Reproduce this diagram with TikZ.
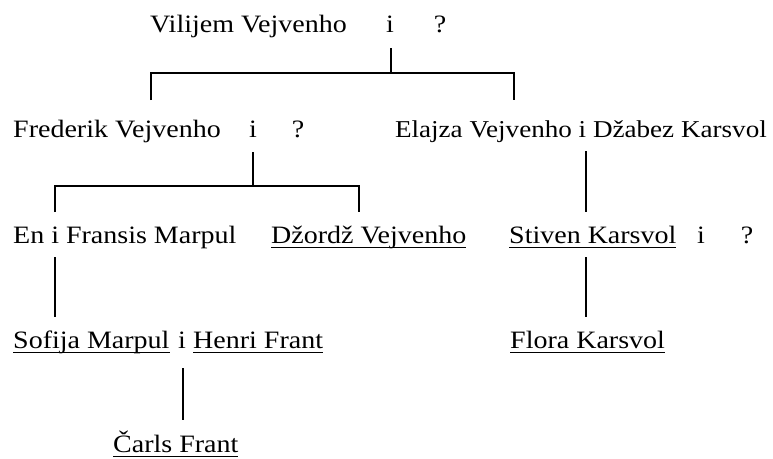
\documentclass[tikz,border=0pt]{standalone}
\usepackage{fontspec}
\setmainfont[FakeStretch=1.12]{Liberation Serif}
\newsavebox\ulbox
\newcommand\ulx[1]{\sbox\ulbox{#1}\rlap{\rule[-5pt]{\wd\ulbox}{1.1pt}}\usebox\ulbox}
\tikzset{
  txt/.style={inner sep=0pt, anchor=base west, font=\fontsize{25}{29}\selectfont},
  sep/.style={inner sep=0pt, anchor=base, font=\fontsize{25}{29}\selectfont},
  conn/.style={line width=1.5pt, line cap=butt, line join=miter}
}
\begin{document}
\begin{tikzpicture}[x=1pt,y=-1pt]
\useasboundingbox[fill=white] (0,0) rectangle (773,458);
% row 1
\node[txt] (vil) at (150,32) {Vilijem Vejvenho};
\node[sep] (i1) at (390,32) {i};
\node[sep] (q1) at (440,32) {?};
% row 2
\node[txt] (fred) at (13,137) {Frederik Vejvenho};
\node[sep] (i2) at (253,137) {i};
\node[sep] (q2) at (298,137) {?};
\node[txt, anchor=base east, font=\fontsize{24.2}{29}\selectfont] (eli) at (767,137) {Elajza Vejvenho i Džabez Karsvol};
% row 3
\node[txt] (en) at (13,243) {En i Fransis Marpul};
\node[txt] (geo) at (271,243) {\ulx{Džordž Vejvenho}};
\node[txt] (ste) at (509,243) {\ulx{Stiven Karsvol}};
\node[sep] (i3) at (701,243) {i};
\node[sep] (q3) at (747,243) {?};
% row 4
\node[txt] (sof) at (13,348) {\ulx{Sofija Marpul}};
\node[sep] (i4) at (182,348) {i};
\node[txt] (hen) at (193,348) {\ulx{Henri Frant}};
\node[txt] (flo) at (510,348) {\ulx{Flora Karsvol}};
% row 5
\node[txt] (cha) at (113,452) {\ulx{Čarls Frant}};
% joints
\coordinate (a-top) at (391,48);
\coordinate (a-mid) at (391,73);
\coordinate (a-l) at (151,73);
\coordinate (a-r) at (514,73);
\coordinate (fred-in) at (151,100);
\coordinate (eli-in) at (514,100);
\coordinate (b-top) at (253,152);
\coordinate (b-mid) at (253,186);
\coordinate (b-l) at (55,186);
\coordinate (b-r) at (359,186);
\coordinate (en-in) at (55,212);
\coordinate (geo-in) at (359,212);
\coordinate (c-top) at (586,151);
\coordinate (ste-in) at (586,212);
\coordinate (d-top) at (55,257);
\coordinate (sof-in) at (55,317);
\coordinate (e-top) at (586,257);
\coordinate (flo-in) at (586,317);
\coordinate (f-top) at (183,368);
\coordinate (cha-in) at (183,420);
% connectors
\draw[conn] (a-top) -- (a-mid);
\draw[conn] (fred-in) -- (a-l) -- (a-r) -- (eli-in);
\draw[conn] (b-top) -- (b-mid);
\draw[conn] (en-in) -- (b-l) -- (b-r) -- (geo-in);
\draw[conn] (c-top) -- (ste-in);
\draw[conn] (d-top) -- (sof-in);
\draw[conn] (e-top) -- (flo-in);
\draw[conn] (f-top) -- (cha-in);
\end{tikzpicture}
\end{document}
